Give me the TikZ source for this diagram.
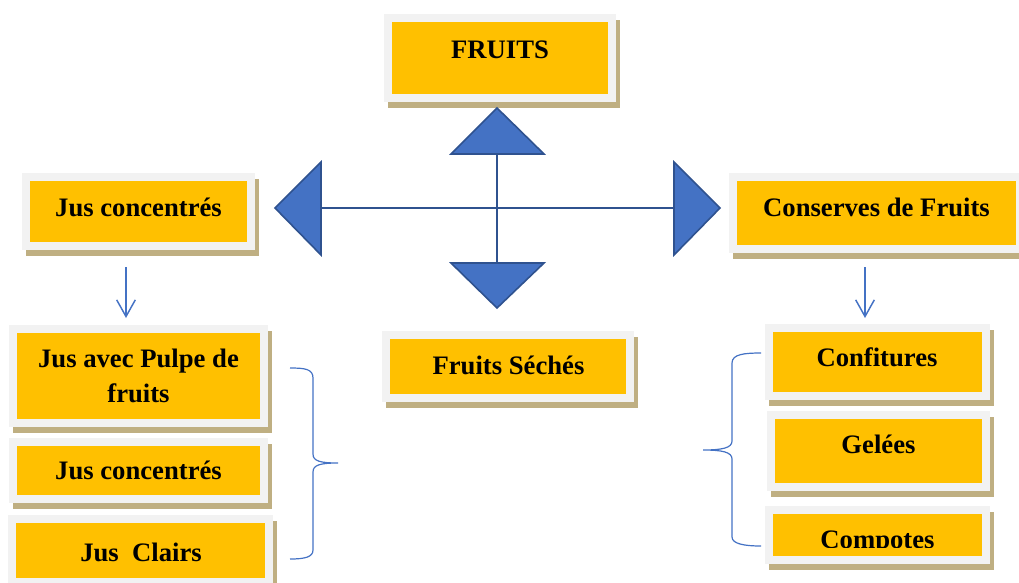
\documentclass[tikz,border=0pt]{standalone}
\usepackage{fontspec}
\setmainfont{Liberation Serif}
\usetikzlibrary{arrows.meta}
\definecolor{orng}{HTML}{FFC000}
\definecolor{frm}{HTML}{F2F2F2}
\definecolor{shd}{HTML}{BFAF82}
\definecolor{tri}{HTML}{4472C4}
\definecolor{trib}{HTML}{2F528F}
\tikzset{
  inbox/.style={fill=orng, draw=none, inner sep=0pt, outer sep=0pt},
  lbl/.style={font=\fontsize{20}{23}\selectfont\bfseries, text=black, inner sep=0pt, anchor=base},
  tribox/.style={fill=tri, draw=trib, line width=1.2pt, line join=miter},
  stem/.style={draw=trib, line width=2.2pt},
  thinarrow/.style={draw=tri, line width=1.1pt, -{Straight Barb[length=12.5pt,width=14pt,line width=1.1pt]}},
  bracecurve/.style={draw=tri, line width=0.9pt},
}
\newcommand{\yboxdraw}[5]{%
  \fill[shd] ({#2-4},{#3-2}) rectangle ({#4+12},{#5+14});
  \fill[frm] ({#2-8},{#3-8}) rectangle ({#4+8},{#5+8});
  \node[inbox, minimum width={(#4-#2)*0.75pt}, minimum height={(#5-#3)*0.75pt}] (#1) at ({(#2+#4)/2},{(#3+#5)/2}) {};
}
\begin{document}
\begin{tikzpicture}[x=0.75pt,y=-0.75pt]
\useasboundingbox (0,0) rectangle (1019,582);
\clip (0,0) rectangle (1019,582);

% boxes
\yboxdraw{fruits}{392}{22}{608}{94}
\yboxdraw{jc}{30}{181}{247}{242}
\yboxdraw{cf}{737}{181}{1016}{245}
\yboxdraw{jp}{17}{333}{260}{419}
\yboxdraw{jcb}{17}{446}{260}{495}
\yboxdraw{jcl}{16}{523}{265}{578}
\yboxdraw{fs}{390}{339}{626}{394}
\yboxdraw{conf}{773}{332}{982}{392}
\yboxdraw{gel}{775}{419}{982}{483}
\yboxdraw{comp}{773}{514}{982}{556}

% labels
\node[lbl] (fruitsT) at (500,58) {FRUITS};
\node[lbl] (jcT) at (138.5,216) {Jus concentrés};
\node[lbl] (cfT) at (876.5,216) {Conserves de Fruits};
\node[lbl] (jpTa) at (138.5,367) {Jus avec Pulpe de};
\node[lbl] (jpTb) at (138.5,402) {fruits};
\node[lbl] (jcbT) at (138.5,479) {Jus concentrés};
\node[lbl] (jclT) at (141,561) {Jus\ \ Clairs};
\node[lbl] (fsT) at (508.5,374) {Fruits Séchés};
\node[lbl] (confT) at (877,366) {Confitures};
\node[lbl] (gelT) at (878.5,453) {Gelées};
\begin{scope}
  \clip (700,500) rectangle (1000,547);
  \node[lbl] (compT) at (877.5,548) {Compotes};
\end{scope}

% quad arrow
\coordinate (ctr) at (497,208);
\draw[stem] (497,154) -- (497,263);
\draw[stem] (321,208) -- (674,208);
\draw[tribox] (451,154) -- (497,108) -- (544,154) -- cycle;
\draw[tribox] (451,263) -- (544,263) -- (497,308) -- cycle;
\draw[tribox] (321,162) -- (275,208) -- (321,255) -- cycle;
\draw[tribox] (674,162) -- (720,208) -- (674,255) -- cycle;

% small arrows
\coordinate (la) at (126,267);
\coordinate (lb) at (126,318);
\coordinate (ra) at (865,267);
\coordinate (rb) at (865,318);
\draw[thinarrow] (la) -- (lb);
\draw[thinarrow] (ra) -- (rb);

% braces
\draw[bracecurve] (290,368) .. controls (305,368) and (313,369) .. (313,378) -- (313,454)
  .. controls (313,461) and (320,463) .. (338,463)
  .. controls (320,463) and (313,465) .. (313,472) -- (313,550)
  .. controls (313,557) and (305,559) .. (290,559);
\draw[bracecurve] (761,353) .. controls (745,353) and (732,354) .. (732,363) -- (732,441)
  .. controls (732,448) and (722,450) .. (703,450)
  .. controls (722,450) and (732,452) .. (732,459) -- (732,537)
  .. controls (732,544) and (745,546) .. (761,546);
\end{tikzpicture}
\end{document}
